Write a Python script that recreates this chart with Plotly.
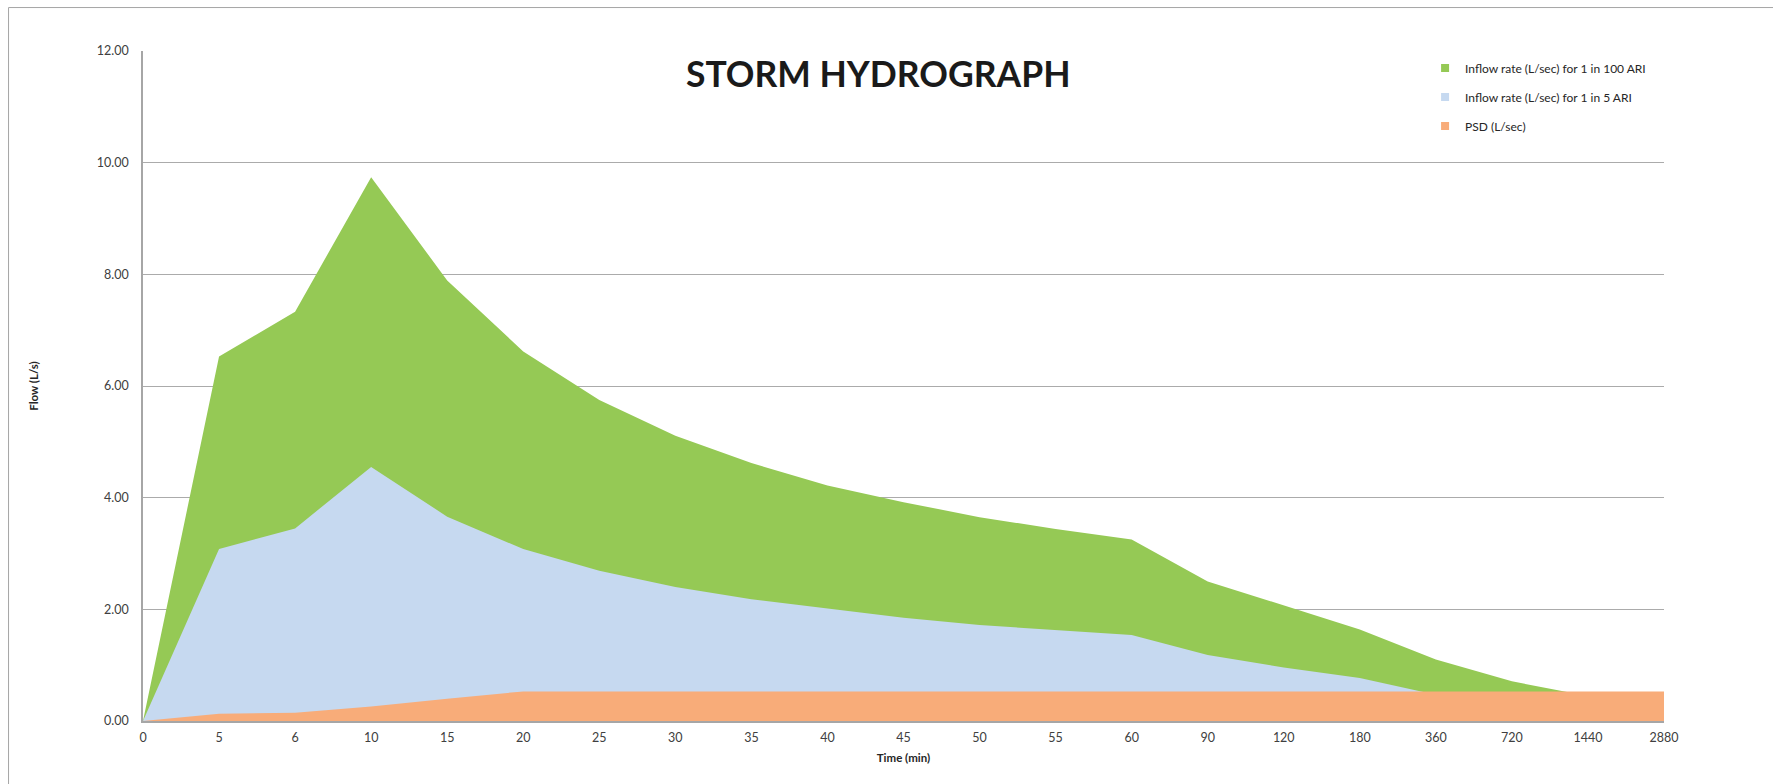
import plotly.graph_objects as go

# Storm hydrograph: inflow for two ARI events and the permissible site discharge
time_min = ["0", "5", "6", "10", "15", "20", "25", "30", "35", "40", "45",
            "50", "55", "60", "90", "120", "180", "360", "720", "1440", "2880"]
inflow_100_ari = [0.00, 6.53, 7.33, 9.74, 7.89, 6.62, 5.75, 5.11, 4.62, 4.22, 3.92,
                  3.65, 3.44, 3.25, 2.50, 2.07, 1.64, 1.10, 0.71, 0.45, 0.30]
inflow_5_ari = [0.00, 3.08, 3.45, 4.55, 3.66, 3.08, 2.69, 2.40, 2.18, 2.01, 1.85,
                1.72, 1.63, 1.54, 1.18, 0.96, 0.77, 0.47, 0.31, 0.20, 0.13]
psd = [0.00, 0.13, 0.15, 0.26, 0.40, 0.53, 0.53, 0.53, 0.53, 0.53, 0.53,
       0.53, 0.53, 0.53, 0.53, 0.53, 0.53, 0.53, 0.53, 0.53, 0.53]

series = [
    ("Inflow rate (L/sec) for 1 in 100 ARI", inflow_100_ari, "#95C955"),
    ("Inflow rate (L/sec) for 1 in 5 ARI", inflow_5_ari, "#C6D9F0"),
    ("PSD (L/sec)", psd, "#F8AC79"),
]

FONT = "Lato, 'Open Sans', sans-serif"
W, H = 1773, 784
ML, MR, MT, MB = 142.5, 109, 50.5, 63

fig = go.Figure()
for i, (name, vals, color) in enumerate(series):
    fig.add_trace(go.Scatter(
        x=time_min, y=vals, mode="lines", fill="tozeroy",
        line=dict(width=0, color=color), fillcolor=color,
        showlegend=False, hoverinfo="x+y", name=name,
    ))
# legend entries drawn as small squares
for i, (name, vals, color) in enumerate(series):
    fig.add_trace(go.Scatter(
        x=[None], y=[None], mode="markers", name=name, legendgroup=f"g{i}",
        marker=dict(symbol="square", size=8, color=color),
    ))

pw = W - ML - MR
ph = H - MT - MB

fig.update_layout(
    width=W, height=H,
    margin=dict(l=ML, r=MR, t=MT, b=MB, pad=0),
    paper_bgcolor="white", plot_bgcolor="white",
    font=dict(family=FONT, size=12, color="#404040"),
    title=dict(text="<b>STORM HYDROGRAPH</b>", x=(878 - ML) / pw, xref="paper",
               xanchor="center", y=1 - 75 / H, yanchor="middle",
               font=dict(family=FONT, size=35.5, color="#1a1a1a")),
    legend=dict(x=(1425 - ML) / pw, y=1 - (53 - MT) / ph, xanchor="left", yanchor="top",
                traceorder="grouped", tracegroupgap=10,
                font=dict(family=FONT, size=12, color="#262626"),
                bgcolor="rgba(0,0,0,0)"),
    xaxis=dict(type="category", range=[0, 20], showgrid=False,
               showline=True, linecolor="#A6A6A6", linewidth=1.5,
               ticks="", tickfont=dict(size=12.5, color="#404040"),
               ticklabelstandoff=4,
               title=dict(text="<b>Time (min)</b>", standoff=10,
                          font=dict(size=11.5, color="#262626"))),
    yaxis=dict(range=[0, 12], dtick=2, tickformat=".2f",
               showgrid=True, gridcolor="#ABABAB", gridwidth=1,
               showline=True, linecolor="#A6A6A6", linewidth=1.5,
               zeroline=False, ticks="", ticklabelstandoff=10,
               tickfont=dict(size=12.5, color="#404040"),
               title=dict(text="<b>Flow (L/s)</b>", standoff=56,
                          font=dict(size=11.5, color="#262626"))),
    shapes=[dict(type="rect", xref="paper", yref="paper",
                 x0=(8 - ML) / pw, x1=1.2, y0=-0.3, y1=1 + (MT - 7) / ph,
                 line=dict(color="#A6A6A6", width=1), layer="below")],
)

fig.write_html("out.html")
